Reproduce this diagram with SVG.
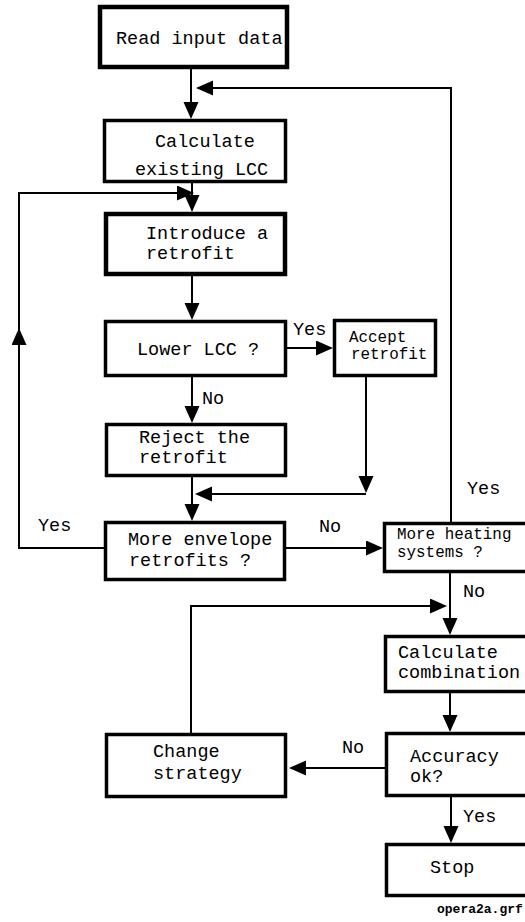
<svg xmlns="http://www.w3.org/2000/svg" width="525" height="922" viewBox="0 0 525 922">
<style>
.box{fill:#fff;stroke:#000;stroke-width:3.5}
.thick{stroke-width:4.5}
.t{font-family:"Liberation Mono","Courier New",monospace;font-size:18.5px;fill:#000}
.s{font-size:15.9px}
.f{font-size:13px;font-weight:bold}
.c{fill:none;stroke:#000;stroke-width:2}
.a{marker-end:url(#ah)}
</style>
<defs>
<marker id="ah" markerUnits="userSpaceOnUse" markerWidth="18" markerHeight="16" refX="15" refY="7.5" orient="auto" viewBox="0 0 18 16">
<path d="M0,0 L17,7.5 L0,15 z" fill="#000"/>
</marker>
</defs>
<rect x="0" y="0" width="525" height="922" fill="#fff"/>
<g id="connectors">
<line class="c a" x1="191" y1="69" x2="191" y2="117"/>
<polyline class="c a" points="451,522 451,88 198,88"/>
<line class="c a" x1="192" y1="183" x2="192" y2="210"/>
<polyline class="c a" points="104,548 19,548 19,193 192,193"/>
<line class="c a" x1="19" y1="548" x2="19" y2="330"/>
<line class="c a" x1="192" y1="276" x2="192" y2="318"/>
<line class="c a" x1="287" y1="348" x2="331" y2="348"/>
<line class="c a" x1="192" y1="377" x2="192" y2="421"/>
<line class="c a" x1="366" y1="377" x2="366" y2="491"/>
<line class="c a" x1="366" y1="494" x2="197" y2="494"/>
<line class="c a" x1="192" y1="477" x2="192" y2="519"/>
<line class="c a" x1="286" y1="548" x2="381" y2="548"/>
<line class="c a" x1="450" y1="573" x2="450" y2="633"/>
<polyline class="c a" points="191,734 191,606 445,606"/>
<line class="c a" x1="450" y1="693" x2="450" y2="730"/>
<line class="c a" x1="385" y1="768" x2="291" y2="768"/>
<line class="c a" x1="451" y1="797" x2="451" y2="841"/>
</g>
<g id="read-input">
<rect class="box thick" x="100" y="7" width="187" height="60"/>
<text class="t" x="116" y="44">Read input data</text>
</g>
<g id="calc-existing">
<rect class="box" x="104.5" y="120.5" width="181" height="61"/>
<text class="t" x="155" y="147">Calculate</text>
<text class="t" x="135" y="175">existing LCC</text>
</g>
<g id="introduce">
<rect class="box thick" x="106" y="214" width="179" height="60"/>
<text class="t" x="146" y="239">Introduce a</text>
<text class="t" x="146" y="259">retrofit</text>
</g>
<g id="lower-lcc">
<rect class="box" x="105.5" y="321.5" width="180" height="54"/>
<text class="t" x="137" y="355">Lower LCC ?</text>
</g>
<g id="accept">
<rect class="box" x="334.5" y="320.5" width="101" height="55"/>
<text class="t s" x="349" y="342">Accept</text>
<text class="t s" x="351" y="359">retrofit</text>
</g>
<g id="reject">
<rect class="box" x="106.5" y="424.5" width="179" height="51"/>
<text class="t" x="139" y="443">Reject the</text>
<text class="t" x="139" y="463">retrofit</text>
</g>
<g id="more-envelope">
<rect class="box" x="105.5" y="522.5" width="179" height="57"/>
<text class="t" x="128" y="545">More envelope</text>
<text class="t" x="129" y="566">retrofits ?</text>
</g>
<g id="more-heating">
<rect class="box" x="384.5" y="523.5" width="150" height="48"/>
<text class="t s" x="397" y="539">More heating</text>
<text class="t s" x="397" y="557">systems ?</text>
</g>
<g id="calc-combination">
<rect class="box" x="385.5" y="636.5" width="150" height="55"/>
<text class="t" x="398" y="658">Calculate</text>
<text class="t" x="398" y="678">combination</text>
</g>
<g id="accuracy">
<rect class="box" x="386.5" y="733.5" width="150" height="62"/>
<text class="t" x="410" y="762">Accuracy</text>
<text class="t" x="410" y="782">ok?</text>
</g>
<g id="change-strategy">
<rect class="box" x="106.5" y="734.5" width="179" height="62"/>
<text class="t" x="153" y="757">Change</text>
<text class="t" x="153" y="779">strategy</text>
</g>
<g id="stop">
<rect class="box" x="386.5" y="844.5" width="150" height="51"/>
<text class="t" x="430" y="873">Stop</text>
</g>
<g id="labels">
<text class="t" x="293" y="335">Yes</text>
<text class="t" x="202" y="404">No</text>
<text class="t" x="467" y="494">Yes</text>
<text class="t" x="38" y="531">Yes</text>
<text class="t" x="319" y="532">No</text>
<text class="t" x="463" y="597">No</text>
<text class="t" x="342" y="753">No</text>
<text class="t" x="463" y="822">Yes</text>
<text class="t f" x="437" y="913">opera2a.grf</text>
</g>
</svg>
